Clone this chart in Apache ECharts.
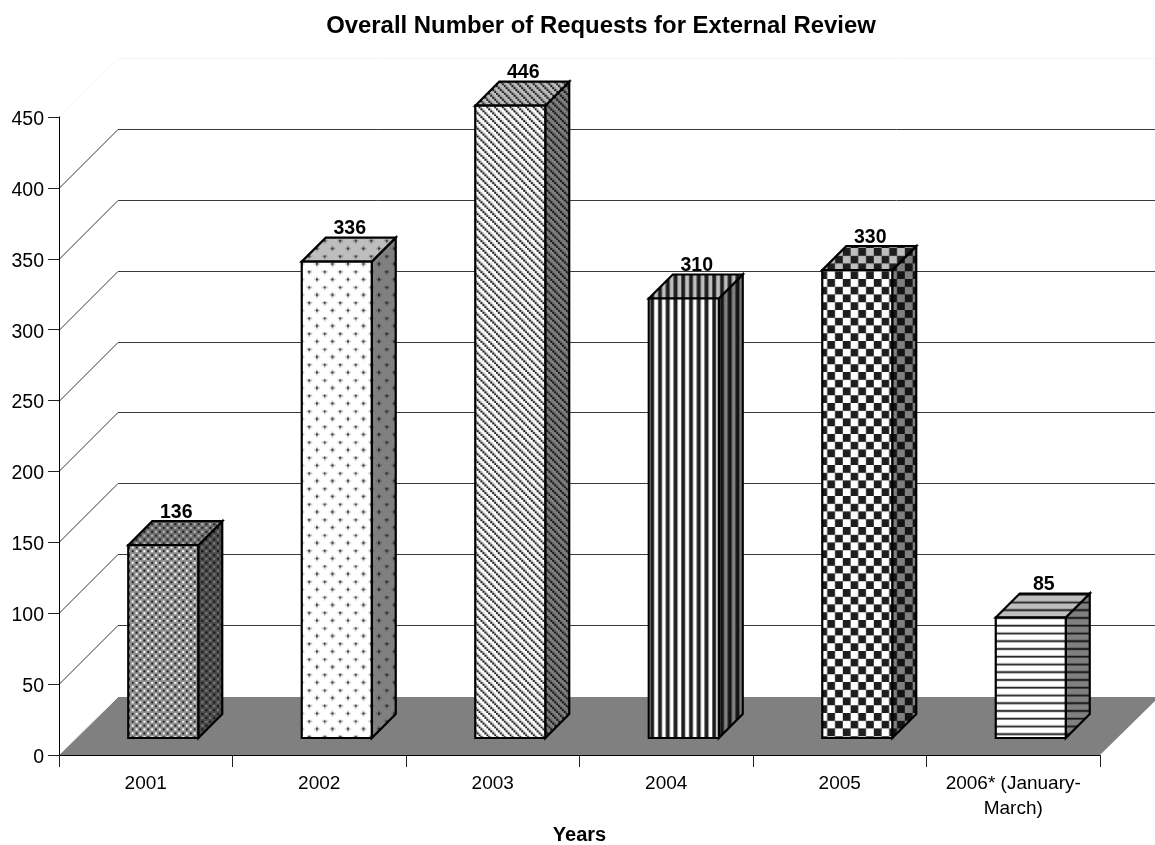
<!DOCTYPE html>
<html>
<head>
<meta charset="utf-8">
<style>html,body{margin:0;padding:0;background:#fff}#chart{width:1155px;height:845px}</style>
<script src="https://cdn.jsdelivr.net/npm/echarts@6/dist/echarts.min.js"></script>
</head>
<body>
<div id="chart"></div>
<script>
// Requests per reporting year
const years = ['2001', '2002', '2003', '2004', '2005', '2006* (January-\nMarch)'];
const requests = [136, 336, 446, 310, 330, 85];
const gridLevels = [50, 100, 150, 200, 250, 300, 350, 400];
const topLevel = 450;

// Hatch tiles: # foreground, + half tone, - quarter tone, . background
const hatchTiles = [
  ['#+.+', '++++', '.+#+', '++++'],
  ['#-.....-', '-.......', '........', '........', '...-#-..', '....-...', '........', '-.......'],
  ['#-..', '.#-.', '..#-', '-..#'],
  ['##..'],
  ['####....', '####....', '####....', '####....', '....####', '....####', '....####', '....####'],
  ['#', '.', '.', '.']
];
// Where each tile starts on the canvas, so the hatch sits square in its bar
const hatchOrigins = [[0, 0], [6, -0.5], [0, 0], [-0.7, 0], [5.75, 0], [0, 4.7]];
const TILE_SCALE = 31 / 16;      // one tile cell in screen pixels
const WALL_DX = 59;              // horizontal reach of the receding walls
const WALL_DY = 59;              // vertical reach of the wall lines
const FLOOR_DY = 58;
const BAR_INSET = 17;            // how far bars stand back from the front edge
const BAR_DEPTH = 24;
const BAR_RATIO = 70 / 173.5;

function mix(a, b, t) { return a + (b - a) * t; }

// Rasterises a tile at a fractional scale, wrapping at the tile edge.
function hatchCanvas(tile, fg, bg) {
  const size = 31;
  const c = document.createElement('canvas');
  c.width = c.height = size;
  const ctx = c.getContext('2d');
  const img = ctx.createImageData(size, size);
  const rows = tile.length, cols = tile[0].length, N = 5;
  const tones = { '#': 1, '+': 0.5, '-': 0.25, '.': 0 };
  for (let y = 0; y < size; y++) {
    for (let x = 0; x < size; x++) {
      let sum = 0;
      for (let i = 0; i < N; i++) {
        for (let j = 0; j < N; j++) {
          const sx = x - 0.1 + 1.2 * (i + 0.5) / N;
          const sy = y - 0.1 + 1.2 * (j + 0.5) / N;
          const cx = Math.floor(sx / TILE_SCALE + 64) % cols;
          const cy = Math.floor(sy / TILE_SCALE + 64) % rows;
          sum += tones[tile[cy][cx]];
        }
      }
      const v = Math.round(mix(bg, fg, sum / (N * N)));
      const p = (y * size + x) * 4;
      img.data[p] = img.data[p + 1] = img.data[p + 2] = v;
      img.data[p + 3] = 255;
    }
  }
  ctx.putImageData(img, 0, 0);
  return c;
}

function hatchFill(index, fg, bg) {
  return {
    image: hatchCanvas(hatchTiles[index], fg, bg),
    repeat: 'repeat',
    x: hatchOrigins[index][0],
    y: hatchOrigins[index][1]
  };
}
const frontFills = hatchTiles.map((_, i) => hatchFill(i, 30, 255));
const topFills = hatchTiles.map((_, i) => hatchFill(i, 30, 190));
const sideFills = hatchTiles.map((_, i) => hatchFill(i, 20, 128));

function renderFloor(params, api) {
  const cs = params.coordSys;
  const x0 = cs.x, x1 = cs.x + cs.width, y0 = cs.y + cs.height, dx = WALL_DX, dy = FLOOR_DY;
  return {
    type: 'group',
    children: [
      { type: 'polygon', shape: { points: [[x0, y0], [x1, y0], [x1 + dx, y0 - dy], [x0 + dx, y0 - dy]] },
        style: { fill: '#808080', stroke: null } },
      { type: 'line', shape: { x1: x0, y1: y0, x2: x0 + dx, y2: y0 - dy },
        style: { stroke: '#eeeeee', lineWidth: 1 } }
    ]
  };
}

function renderWallLine(params, api) {
  const cs = params.coordSys;
  const level = api.value(0);
  const p = api.coord([0, level]);
  const y = Math.round(p[1]) + 0.5, x0 = cs.x;
  const color = level === topLevel ? '#f4f4f4' : '#3a3a3a';
  return {
    type: 'polyline',
    shape: { points: [[x0, y], [x0 + WALL_DX, y - WALL_DY], [cs.x + cs.width + WALL_DX, y - WALL_DY]] },
    style: { stroke: color, lineWidth: 1, fill: null }
  };
}

function renderBar(params, api) {
  const idx = api.value(0);
  const val = api.value(1);
  const c = api.coord([idx, val]);
  const base = api.coord([idx, 0]);
  const w = api.size([1, 0])[0] * BAR_RATIO;
  const x0 = c[0] + BAR_INSET + 0.5 - w / 2, x1 = x0 + w;
  const yT = c[1] - BAR_INSET, yB = base[1] - BAR_INSET;
  const d = BAR_DEPTH;
  const edge = { stroke: '#000', lineWidth: 2.2, lineJoin: 'miter' };
  return {
    type: 'group',
    children: [
      { type: 'polygon', shape: { points: [[x1, yT], [x1 + d, yT - d], [x1 + d, yB - d], [x1, yB]] },
        style: Object.assign({ fill: sideFills[idx] }, edge) },
      { type: 'polygon', shape: { points: [[x0, yT], [x0 + d, yT - d], [x1 + d, yT - d], [x1, yT]] },
        style: Object.assign({ fill: topFills[idx] }, edge) },
      { type: 'rect', shape: { x: x0, y: yT, width: w, height: yB - yT },
        style: Object.assign({ fill: frontFills[idx] }, edge) },
      { type: 'text', z2: 10,
        style: { text: String(val), x: x0 + w / 2 + d / 2 + 1, y: yT - d + 1,
          align: 'center', verticalAlign: 'bottom',
          font: 'bold 19.5px "Liberation Sans", Arial, sans-serif', fill: '#000' } }
    ]
  };
}

const chart = echarts.init(document.getElementById('chart'), null, { renderer: 'canvas' });
const font = '"Liberation Sans", Arial, sans-serif';
chart.setOption({
  animation: false,
  backgroundColor: '#fff',
  title: {
    text: 'Overall Number of Requests for External Review',
    left: 596, top: 9, textAlign: 'center',
    textStyle: { fontFamily: font, fontWeight: 'bold', fontSize: 23.9, color: '#000' }
  },
  grid: { left: 59, right: 55, top: 117, bottom: 90, containLabel: false, outerBoundsMode: 'none' },
  xAxis: {
    type: 'category', data: years, z: 5,
    name: 'Years', nameLocation: 'middle', nameGap: 55,
    nameTextStyle: { fontFamily: font, fontWeight: 'bold', fontSize: 20, color: '#000' },
    axisLine: { lineStyle: { color: '#000', width: 1 } },
    axisTick: { show: true, length: 12, lineStyle: { color: '#222' } },
    axisLabel: { margin: 16, interval: 0, fontFamily: font, fontSize: 19, lineHeight: 25, color: '#000' }
  },
  yAxis: {
    type: 'value', min: 0, max: 450, interval: 50, z: 5,
    axisLine: { show: true, lineStyle: { color: '#000', width: 1 } },
    axisTick: { show: true, length: 11, lineStyle: { color: '#222' } },
    splitLine: { show: false },
    axisLabel: { margin: 15, verticalAlign: 'top', lineHeight: 5, fontFamily: font, fontSize: 19.5, color: '#000' }
  },
  series: [
    { type: 'custom', z: 1, silent: true, renderItem: renderFloor, data: [[0]], encode: { x: 0 }, coordinateSystem: 'cartesian2d' },
    { type: 'custom', z: 2, silent: true, renderItem: renderWallLine,
      data: gridLevels.concat([topLevel]).map(v => [v]), encode: { y: 0 } },
    { type: 'custom', z: 3, silent: true, renderItem: renderBar,
      data: requests.map((v, i) => [i, v]), encode: { x: 0, y: 1 } }
  ]
});
</script>
</body>
</html>
